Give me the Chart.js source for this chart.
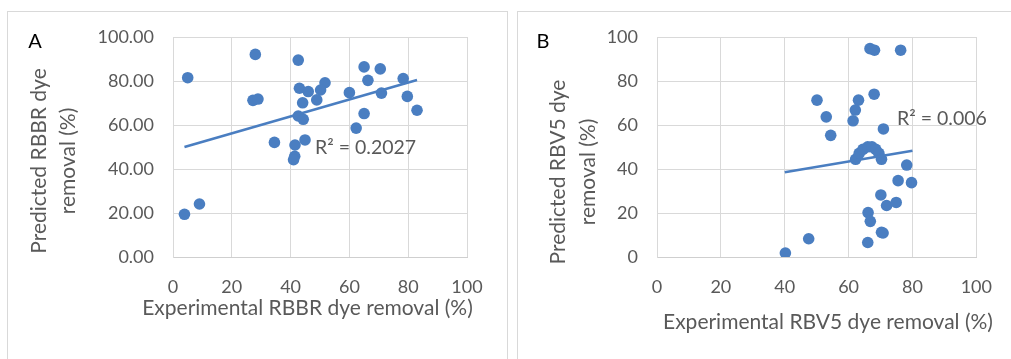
<!DOCTYPE html>
<html>
<head>
<meta charset="utf-8">
<script src="https://cdn.jsdelivr.net/npm/chart.js@4/dist/chart.umd.min.js"></script>
<style>
  html, body { margin: 0; padding: 0; background: #fff; width: 1011px; height: 359px; overflow: hidden; }
  .frame { position: absolute; border: 1px solid #d9d9d9; border-bottom: none; box-sizing: border-box; }
  canvas { position: absolute; top: 0; }
</style>
</head>
<body>
<div class="frame" style="left:7px; top:11px; width:501px; height:360px;"></div>
<div class="frame" style="left:517px; top:11px; width:500px; height:360px;"></div>
<canvas id="cA" width="507" height="359" style="left:0px;"></canvas>
<canvas id="cB" width="499" height="359" style="left:512px;"></canvas>
<script>
// ---- Panel A data (Experimental vs Predicted RBBR dye removal) ----
const expA  = [28.0, 5.0, 42.6, 65.0, 70.5, 66.3, 78.3, 51.7, 50.2, 43.0, 46.0, 48.9, 44.1, 60.0, 70.9, 79.7, 83.0, 65.0, 27.2, 28.9, 42.6, 44.3, 62.3, 34.5, 41.5, 44.9, 41.4, 41.0, 9.0, 3.9];
const predA = [92.1, 81.5, 89.5, 86.4, 85.5, 80.3, 81.1, 79.2, 75.9, 76.7, 75.2, 71.4, 70.1, 74.7, 74.5, 73.0, 66.7, 65.2, 71.2, 71.8, 64.1, 62.6, 58.6, 52.1, 50.9, 53.2, 45.8, 44.2, 24.1, 19.4];
const trendXA = [3.9, 83.0];
const trendYA = [50.0, 80.5];
const r2LabelA = 'R\u00B2 = 0.2027';
const xTicksA = ['0', '20', '40', '60', '80', '100'];
const yTicksA = ['0.00', '20.00', '40.00', '60.00', '80.00', '100.00'];

// ---- Panel B data (Experimental vs Predicted RBV5 dye removal) ----
const expB  = [66.7, 68.1, 76.3, 68.0, 50.1, 63.1, 62.1, 53.0, 61.4, 70.9, 54.4, 62.2, 63.3, 64.5, 66.0, 67.3, 68.5, 69.5, 70.3, 78.2, 75.5, 79.7, 70.1, 71.9, 74.9, 66.1, 66.8, 70.3, 70.8, 47.5, 66.0, 40.2];
const predB = [94.7, 94.0, 94.0, 74.0, 71.3, 71.3, 66.8, 63.7, 61.9, 58.2, 55.3, 44.4, 47.1, 48.9, 50.1, 50.1, 48.9, 47.1, 44.4, 41.8, 34.7, 33.8, 28.2, 23.4, 24.8, 20.2, 16.2, 11.2, 10.9, 8.3, 6.6, 1.8];
const trendXB = [40.0, 80.0];
const trendYB = [38.5, 48.3];
const r2LabelB = 'R\u00B2 = 0.006';
const xTicksB = ['0', '20', '40', '60', '80', '100'];
const yTicksB = ['0', '20', '40', '60', '80', '100'];

const BLUE = '#4A7EC1';
const GREY = '#595959';
const GRID = '#d9d9d9';
const FONT = 'Lato, "Open Sans", sans-serif';

function pts(xs, ys) { return xs.map((x, i) => ({ x: x, y: ys[i] })); }

const textPlugin = {
  id: 'panelText',
  afterDraw(chart) {
    const o = chart.options.plugins.panelText;
    const ctx = chart.ctx;
    ctx.save();
    ctx.fillStyle = '#000';
    ctx.font = '20px ' + FONT;
    ctx.textAlign = 'center';
    ctx.textBaseline = 'middle';
    ctx.fillText(o.letter, o.letterX, o.letterY);
    ctx.fillStyle = GREY;
    ctx.font = o.titleSize + 'px ' + FONT;
    ctx.fillText(o.xTitle, o.xTitleX, o.xTitleY);
    o.yTitle.forEach((line, i) => {
      ctx.save();
      ctx.translate(o.yTitleX[i], o.yTitleY);
      ctx.rotate(-Math.PI / 2);
      ctx.fillText(line, 0, 0);
      ctx.restore();
    });
    ctx.font = '19.5px ' + FONT;
    ctx.textAlign = 'left';
    ctx.fillText(o.r2, o.r2X, o.r2Y);
    ctx.restore();
  }
};

function makeChart(id, xs, ys, tx, ty, xt, yt, area, text) {
  const labelFor = (arr) => (v, i) => arr[i];
  return new Chart(document.getElementById(id), {
    type: 'scatter',
    data: {
      datasets: [
        { data: pts(xs, ys), backgroundColor: BLUE, borderWidth: 0, pointRadius: 5.8, pointHoverRadius: 5.8, order: 2 },
        { data: pts(tx, ty), showLine: true, borderColor: BLUE, borderWidth: 2.6, pointRadius: 0, fill: false, order: 1 }
      ]
    },
    options: {
      responsive: false,
      animation: false,
      events: [],
      layout: { padding: { left: 0, top: area.top, right: area.right, bottom: 0 } },
      plugins: { legend: { display: false }, tooltip: { enabled: false }, panelText: text },
      scales: {
        x: {
          type: 'linear', min: 0, max: 100,
          afterFit: (s) => { s.height = 359 - area.bottom; },
          ticks: { stepSize: 20, padding: 19, color: GREY, font: { family: FONT, size: 18 }, callback: labelFor(xt) },
          grid: { color: GRID, lineWidth: 1, drawTicks: false },
          border: { color: '#cfcfcf', width: 1 }
        },
        y: {
          type: 'linear', min: 0, max: 100,
          afterFit: (s) => { s.width = area.left; },
          ticks: { stepSize: 20, padding: 19, color: GREY, font: { family: FONT, size: 18 }, callback: labelFor(yt) },
          grid: { color: GRID, lineWidth: 1, drawTicks: false },
          border: { color: GRID, width: 1 }
        }
      }
    },
    plugins: [textPlugin]
  });
}

makeChart('cA', expA, predA, trendXA, trendYA, xTicksA, yTicksA,
  { left: 173, top: 37, right: 507 - 467, bottom: 257 },
  { letter: 'A', letterX: 35, letterY: 42,
    xTitle: 'Experimental RBBR dye removal (%)', xTitleX: 307.5, xTitleY: 308, titleSize: 21,
    yTitle: ['Predicted RBBR dye', 'removal (%)'], yTitleX: [39, 68], yTitleY: 161,
    r2: r2LabelA, r2X: 315, r2Y: 148 });

makeChart('cB', expB, predB, trendXB, trendYB, xTicksB, yTicksB,
  { left: 145, top: 37, right: 499 - 470, bottom: 257 },
  { letter: 'B', letterX: 31, letterY: 42,
    xTitle: 'Experimental RBV5 dye removal (%)', xTitleX: 316, xTitleY: 322, titleSize: 21,
    yTitle: ['Predicted RBV5 dye', 'removal (%)'], yTitleX: [46, 76], yTitleY: 172,
    r2: r2LabelB, r2X: 385, r2Y: 119 });
</script>
</body>
</html>
